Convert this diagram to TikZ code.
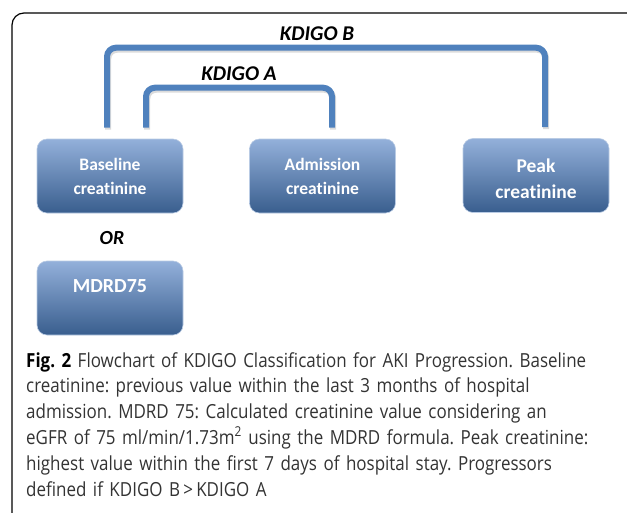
\documentclass[tikz,border=0pt]{standalone}
\usepackage{fontspec}
\setmainfont[FakeStretch=0.875]{Open Sans}
\newfontfamily\calibri[Ligatures=NoCommon]{Carlito}
\usetikzlibrary{positioning}

\definecolor{kblue}{HTML}{4F81BD}
\definecolor{boxtop}{HTML}{93B0DA}
\definecolor{boxmid}{HTML}{4F81BD}
\definecolor{boxbot}{HTML}{395E8E}
\definecolor{boxedge}{HTML}{B9CBE4}
\definecolor{captext}{HTML}{333333}

\begin{document}
\begin{tikzpicture}[x=1pt,y=-1pt,
    stage/.style={rectangle,rounded corners=10pt,draw=boxedge,line width=.6pt,
      top color=boxtop,middle color=boxmid,bottom color=boxbot,
      minimum width=146pt,minimum height=74pt,inner sep=0pt,
      text=white,align=center,font=\calibri\bfseries\fontsize{17.5}{24}\selectfont},
    bracket/.style={draw=kblue,line width=6pt,rounded corners=9pt,
      preaction={draw=black!40,opacity=.35,line width=6pt,
        transform canvas={shift={(1.2pt,-2pt)}}}},
    kdigo/.style={inner sep=0pt,font=\calibri\bfseries\itshape\fontsize{21}{24}\selectfont},
    caption/.style={anchor=north west,inner sep=0pt,text width=660pt,align=left,
      text=captext,font=\frenchspacing\fontsize{19.4}{25.8}\selectfont}]
  \useasboundingbox (0,0) rectangle (627,512);

  % frame round the figure
  \draw[line width=1.2pt,rounded corners=12pt] (12,514) -- (12,13) -- (628,13);

  % the four creatinine values
  \node[stage] (baseline) at (110,176) {Baseline\\creatinine};
  \node[stage] (admission) at (322.5,176) {Admission\\creatinine};
  \node[stage,font=\calibri\bfseries\fontsize{19.5}{26}\selectfont] (peak) at (536,175.5) {\rule{0pt}{20pt}Peak\\creatinine};
  \node[stage,font=\calibri\bfseries\fontsize{20}{24}\selectfont] (mdrd) at (110,298) {MDRD75\\~};
  \node[kdigo,font=\calibri\bfseries\itshape\fontsize{20}{24}\selectfont] (alt) at (112,238) {OR};

  % bracket ends above the boxes
  \coordinate (bL) at ([shift={(-3,-11)}]baseline.north);
  \coordinate (aL) at ([shift={(36,-11)}]baseline.north);
  \coordinate (aR) at ([shift={(9.5,-11)}]admission.north);
  \coordinate (bR) at ([shift={(9,-11)}]peak.north);

  \draw[bracket] (bL) -- ++(0,-80) -| (bR)
    node[kdigo,pos=.25,above=4pt,xshift=-9pt] (kdigoB) {KDIGO B};
  \draw[bracket] (aL) -- ++(0,-40) -| (aR)
    node[kdigo,pos=.25,above=4pt] (kdigoA) {KDIGO A};

  % caption
  \node[caption] (cap) at (26,352) {{\color{black}\textbf{Fig. 2}} Flowchart of KDIGO Classification for AKI Progression. Baseline\\
    creatinine: previous value within the last 3 months of hospital\\
    admission. MDRD 75: Calculated creatinine value considering an\\
    eGFR of 75 ml/min/1.73m\textsuperscript{2} using the MDRD formula. Peak creatinine:\\
    highest value within the first 7 days of hospital stay. Progressors\\
    defined if KDIGO B\,>\,KDIGO A};
\end{tikzpicture}
\end{document}
